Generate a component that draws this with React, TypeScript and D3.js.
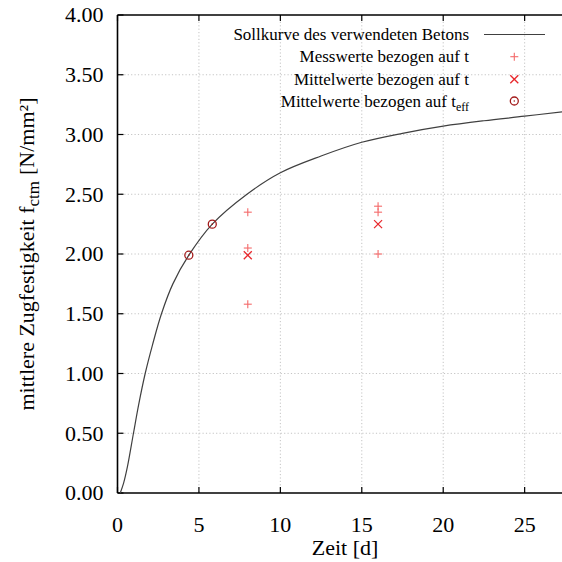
import React from "react";
import * as d3 from "d3";

const curveT = [0.17, 0.37, 0.61, 0.98, 1.3, 1.7, 2.15, 2.7, 3.4, 4.38, 5.82, 7.95, 10, 12.5, 15, 17.5, 20, 22.5, 25, 27.3, 28];
const curveV = [0, 0.08, 0.22, 0.5, 0.74, 1.0, 1.24, 1.5, 1.75, 1.99, 2.25, 2.5, 2.68, 2.82, 2.935, 3.01, 3.07, 3.115, 3.153, 3.19, 3.2];

const messT = [8, 8, 8, 16, 16, 16];
const messV = [2.35, 2.05, 1.58, 2.4, 2.35, 2.0];

const mittelT = [8, 16];
const mittelV = [1.99, 2.25];

const effT = [4.38, 5.82];
const effV = [1.99, 2.25];

const xTicks = [0, 5, 10, 15, 20, 25];
const yTicks = [0, 0.5, 1, 1.5, 2, 2.5, 3, 3.5, 4];

const legendLabels = [
  "Sollkurve des verwendeten Betons",
  "Messwerte bezogen auf t",
  "Mittelwerte bezogen auf t",
  "Mittelwerte bezogen auf t",
];

const W = 562;
const H = 562;
const FONT = "'Liberation Serif', 'Times New Roman', serif";

export default function App() {
  const x = d3.scaleLinear().domain([0, 28]).range([117.5, 573.5]);
  const y = d3.scaleLinear().domain([0, 4]).range([493, 15]);
  const line = d3
    .line<number>()
    .x((_, i) => x(curveT[i]))
    .y((d) => y(d))
    .curve(d3.curveCatmullRom.alpha(0.5));

  const plus = (cx: number, cy: number, s: number, color: string, key: string) => (
    <g key={key} stroke={color} strokeWidth={1.1}>
      <line x1={cx - s} x2={cx + s} y1={cy} y2={cy} />
      <line x1={cx} x2={cx} y1={cy - s} y2={cy + s} />
    </g>
  );
  const cross = (cx: number, cy: number, s: number, color: string, key: string) => (
    <g key={key} stroke={color} strokeWidth={1.3}>
      <line x1={cx - s} x2={cx + s} y1={cy - s} y2={cy + s} />
      <line x1={cx - s} x2={cx + s} y1={cy + s} y2={cy - s} />
    </g>
  );
  const circ = (cx: number, cy: number, key: string) => (
    <g key={key}>
      <circle cx={cx} cy={cy} r={4} fill="none" stroke="#a31a1a" strokeWidth={1.3} />
      <circle cx={cx} cy={cy} r={0.8} fill="#a31a1a" />
    </g>
  );

  const plusColor = "#f46a6a";
  const crossColor = "#e8262b";
  const left = x(0);
  const bottom = y(0);
  const top = y(4);
  const legX = 469;
  const legYs = [34.5, 56.7, 79.2, 101];

  return (
    <svg width={W} height={H} style={{ position: "absolute", left: 0, top: 0 }} fontFamily={FONT}>
      <rect width={W} height={H} fill="#fff" />
      {/* grid */}
      <g stroke="#c4c4c4" strokeWidth={1} strokeDasharray="1.2,2.2">
        {xTicks.filter((t) => t > 0).map((t) => (
          <line key={"gx" + t} x1={x(t)} x2={x(t)} y1={top} y2={bottom} />
        ))}
        {yTicks.filter((t) => t > 0 && t < 4).map((t) => (
          <line key={"gy" + t} x1={left} x2={W + 20} y1={y(t)} y2={y(t)} />
        ))}
      </g>
      {/* ticks */}
      <g stroke="#000" strokeWidth={1.2}>
        {xTicks.map((t) => (
          <g key={"tx" + t}>
            <line x1={x(t)} x2={x(t)} y1={bottom} y2={bottom - 6} />
            <line x1={x(t)} x2={x(t)} y1={top} y2={top + 6} />
          </g>
        ))}
        {yTicks.map((t) => (
          <line key={"ty" + t} x1={left} x2={left + 6} y1={y(t)} y2={y(t)} />
        ))}
      </g>
      {/* frame */}
      <g stroke="#000" strokeWidth={1.6} fill="none">
        <line x1={left} x2={W + 20} y1={top} y2={top} />
        <line x1={left} x2={W + 20} y1={bottom} y2={bottom} />
        <line x1={left} x2={left} y1={top} y2={bottom} />
      </g>
      {/* tick labels */}
      <g fontSize={22} fill="#000">
        {xTicks.map((t) => (
          <text key={"lx" + t} x={x(t)} y={532} textAnchor="middle">
            {t}
          </text>
        ))}
        {yTicks.map((t) => (
          <text key={"ly" + t} x={103.5} y={y(t) + 7.3} textAnchor="end">
            {d3.format(".2f")(t)}
          </text>
        ))}
      </g>
      {/* axis titles */}
      <text x={345} y={555} fontSize={22} textAnchor="middle" fill="#000">
        Zeit [d]
      </text>
      <text transform={`translate(34,${(top + bottom) / 2}) rotate(-90)`} fontSize={22} textAnchor="middle" fill="#000">
        mittlere Zugfestigkeit f<tspan fontSize={17} dy={5}>ctm</tspan>
        <tspan dy={-5} dx={6}>{"[N/mm²]"}</tspan>
      </text>
      {/* curve */}
      <path d={line(curveV) || ""} fill="none" stroke="#404040" strokeWidth={1.2} />
      {/* points */}
      {messT.map((t, i) => plus(x(t), y(messV[i]), 4, plusColor, "m" + i))}
      {mittelT.map((t, i) => cross(x(t), y(mittelV[i]), 4, crossColor, "c" + i))}
      {effT.map((t, i) => circ(x(t), y(effV[i]), "e" + i))}
      {/* legend */}
      <g fontSize={17} fill="#000">
        {legendLabels.map((l, i) => (
          <text key={"lg" + i} x={legX} y={legYs[i] + 5.5} textAnchor="end">
            {l}
            {i === 3 ? <tspan fontSize={12} dy={4}>eff</tspan> : null}
          </text>
        ))}
      </g>
      <line x1={484} x2={545} y1={legYs[0]} y2={legYs[0]} stroke="#404040" strokeWidth={1.2} />
      {plus(514.3, legYs[1], 4, plusColor, "lp")}
      {cross(514.3, legYs[2], 4, crossColor, "lc")}
      {circ(514.3, legYs[3], "le")}
    </svg>
  );
}
